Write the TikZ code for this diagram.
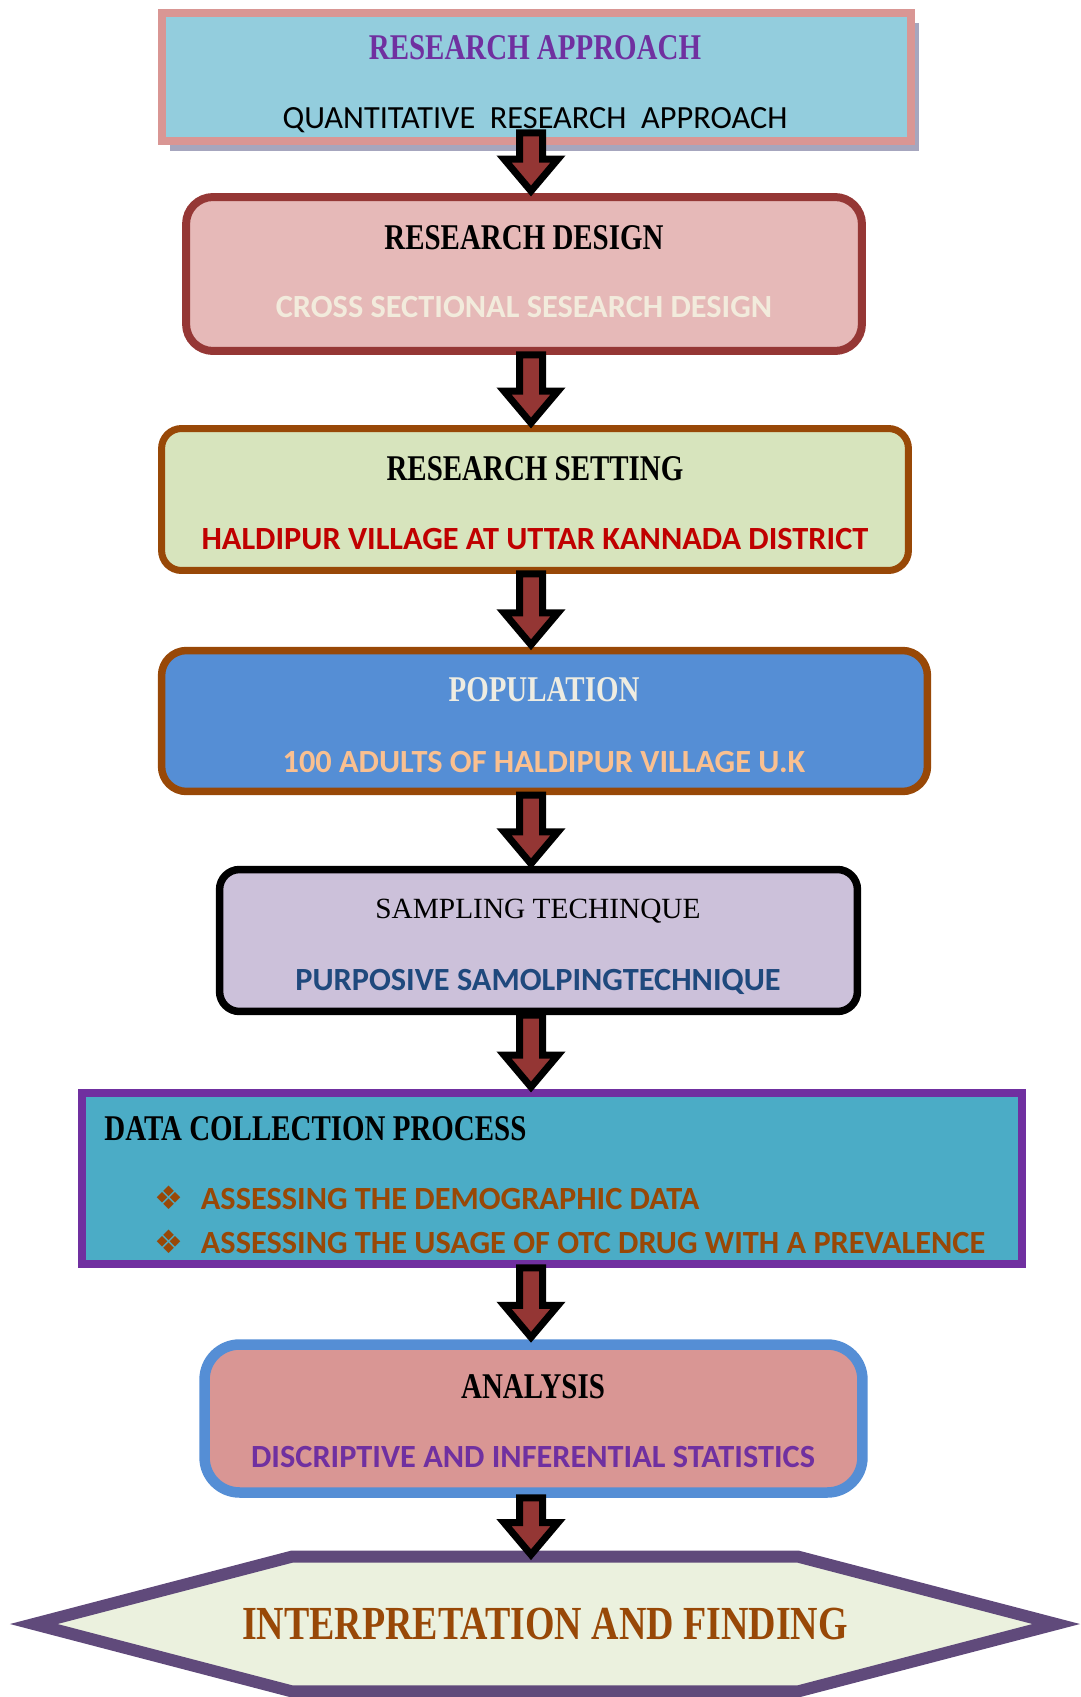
\documentclass[tikz,border=0pt]{standalone}
\usepackage{fontspec}
\setmainfont{Carlito}
\newfontfamily\headfont{Liberation Serif}[FakeStretch=0.8]
\newfontfamily\sampfont{Liberation Serif}
\newfontfamily\dingfont{DejaVu Sans}
\usepackage{tikz}
\usetikzlibrary{calc,backgrounds,shadows}

\definecolor{apprfill}{HTML}{93CDDD}
\definecolor{apprline}{HTML}{D99694}
\definecolor{shadowgray}{HTML}{A6A6BE}
\definecolor{designfill}{HTML}{E6B9B8}
\definecolor{designline}{HTML}{953735}
\definecolor{cream}{HTML}{F2EBDC}
\definecolor{settingfill}{HTML}{D7E4BD}
\definecolor{brownline}{HTML}{984807}
\definecolor{darkred}{HTML}{C00000}
\definecolor{popfill}{HTML}{558ED5}
\definecolor{popwhite}{HTML}{EEECE1}
\definecolor{peach}{HTML}{FAC090}
\definecolor{sampfill}{HTML}{CCC1DA}
\definecolor{navy}{HTML}{1F497D}
\definecolor{datafill}{HTML}{4BACC6}
\definecolor{purple}{HTML}{7030A0}
\definecolor{anafill}{HTML}{D99694}
\definecolor{analine}{HTML}{558ED5}
\definecolor{finalfill}{HTML}{EBF1DE}
\definecolor{finalline}{HTML}{604A7B}
\definecolor{arrowred}{HTML}{943634}

\tikzstyle{stage} = [rectangle, inner sep=0pt, line width=0.16cm]
\tikzstyle{heading} = [anchor=base, inner sep=0pt, font=\headfont\bfseries\fontsize{20.6}{24}\selectfont]
\tikzstyle{detail} = [anchor=base, inner sep=0pt, font=\bfseries\fontsize{18.4}{22}\selectfont]
\tikzstyle{bullet} = [anchor=base west, inner sep=0pt, text=brownline, font=\bfseries\fontsize{18.4}{22}\selectfont]
\tikzstyle{arrow} = [draw=black, fill=arrowred, line width=0.14cm, line join=miter]

% block arrow on the spine, from the bottom of one box to the top of the next
\newcommand{\flowarrow}[3][0]{%
  \draw[arrow] ($(#2 -| spine)+(-11.5,#1)$) -- ($(#3 -| spine)+(-11.5,-34)$)
    -- ($(#3 -| spine)+(-27,-34)$) -- ($(#3 -| spine)+(0,-2)$)
    -- ($(#3 -| spine)+(27,-34)$) -- ($(#3 -| spine)+(11.5,-34)$)
    -- ($(#2 -| spine)+(11.5,#1)$) -- cycle;}

\begin{document}
\begin{tikzpicture}[x=0.02cm, y=-0.02cm]
	\useasboundingbox (0,0) rectangle (1081,1697);
	\coordinate (spine) at (531,0);

	\node (appr) [stage, fill=apprfill, draw=apprline, minimum width=14.98cm, minimum height=2.56cm,
		drop shadow={shadow xshift=0.16cm, shadow yshift=-0.2cm, fill=shadowgray, opacity=1}] at (536.5,77) {};
	\node (design) [stage, rounded corners=0.54cm, fill=designfill, draw=designline, minimum width=13.52cm, minimum height=3.08cm] at (524,274) {};
	\node (setting) [stage, rounded corners=0.4cm, line width=0.14cm, fill=settingfill, draw=brownline, minimum width=14.94cm, minimum height=2.84cm] at (535,499.5) {};
	\node (population) [stage, rounded corners=0.5cm, line width=0.15cm, fill=popfill, draw=brownline, minimum width=15.32cm, minimum height=2.82cm] at (544.5,721) {};
	\node (sampling) [stage, rounded corners=0.4cm, line width=0.15cm, fill=sampfill, draw=black, minimum width=12.76cm, minimum height=2.84cm] at (538.5,940.5) {};
	\node (datacoll) [stage, fill=datafill, draw=purple, minimum width=18.8cm, minimum height=3.42cm] at (552,1178.5) {};
	\node (analysis) [stage, rounded corners=0.7cm, line width=0.21cm, fill=anafill, draw=analine, minimum width=13.16cm, minimum height=2.96cm] at (533.5,1418.5) {};
	\node (final) [inner sep=0pt, minimum width=20.44cm, minimum height=2.68cm, text depth=0pt, text=brownline,
		font=\headfont\bfseries\fontsize{27}{30}\selectfont] at (545,1624) {INTERPRETATION AND FINDING};
	\begin{scope}[on background layer]
		\draw[fill=finalfill, draw=finalline, line width=0.24cm] (final.west) -- ($(final.north west)+(258,0)$)
			-- ($(final.north east)+(-258,0)$) -- (final.east) -- ($(final.south east)+(-258,0)$)
			-- ($(final.south west)+(258,0)$) -- cycle;
	\end{scope}

	\node (apprtitle) [heading, text=purple] at (535,59) {RESEARCH APPROACH};
	\node (apprtext) [detail, font=\mdseries\fontsize{18.4}{22}\selectfont] at (535,128) {QUANTITATIVE~~RESEARCH~~APPROACH};
	\node (designtitle) [heading] at (524,249) {RESEARCH DESIGN};
	\node (designtext) [detail, text=cream] at (524,317) {CROSS SECTIONAL SESEARCH DESIGN};
	\node (settingtitle) [heading] at (535,480) {RESEARCH SETTING};
	\node (settingtext) [detail, text=darkred] at (535,549) {HALDIPUR VILLAGE AT UTTAR KANNADA DISTRICT};
	\node (poptitle) [heading, text=popwhite] at (544,701) {POPULATION};
	\node (poptext) [detail, text=peach] at (544,772) {100 ADULTS OF HALDIPUR VILLAGE U.K};
	\node (samptitle) [heading, font=\sampfont\fontsize{16.7}{20}\selectfont] at (538,918) {SAMPLING TECHINQUE};
	\node (samptext) [detail, text=navy] at (538,990) {PURPOSIVE SAMOLPINGTECHNIQUE};
	\node (datatitle) [heading, anchor=base west] at (104,1140) {DATA COLLECTION PROCESS};
	\node (dataone) [bullet] at (154,1209) {{\dingfont ❖}\hspace{10pt}ASSESSING THE DEMOGRAPHIC DATA};
	\node (datatwo) [bullet] at (154,1253) {{\dingfont ❖}\hspace{10pt}ASSESSING THE USAGE OF OTC DRUG WITH A PREVALENCE};
	\node (anatitle) [heading] at (533,1398) {ANALYSIS};
	\node (anatext) [detail, text=purple] at (533,1467) {DISCRIPTIVE AND INFERENTIAL STATISTICS};

	\flowarrow[-12]{appr.south}{design.north}
	\flowarrow{design.south}{setting.north}
	\flowarrow{setting.south}{population.north}
	\flowarrow{population.south}{sampling.north}
	\flowarrow{sampling.south}{datacoll.north}
	\flowarrow{datacoll.south}{analysis.north}
	\flowarrow{analysis.south}{final.north}
\end{tikzpicture}
\end{document}
